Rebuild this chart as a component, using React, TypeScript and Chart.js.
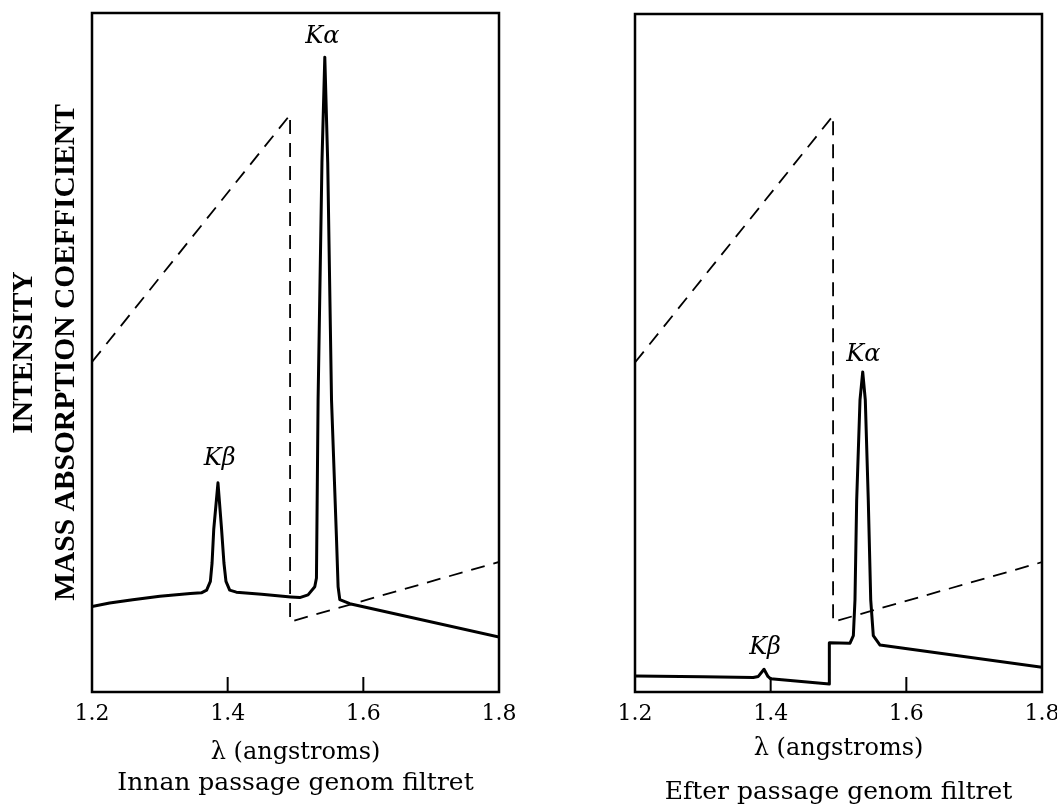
import React, { useEffect, useRef } from 'react';
import { Chart, registerables } from 'chart.js';

Chart.register(...registerables);

// ---- axis / text data ----
const xTicks = [1.2, 1.4, 1.6, 1.8];
const yMin = 0;
const yMax = 100;
const xTitle = 'λ (angstroms)';
const yTitles = ['INTENSITY', 'MASS ABSORPTION COEFFICIENT'];
const beforeCaption = 'Innan passage genom filtret';
const afterCaption = 'Efter passage genom filtret';

// ---- mass absorption coefficient (dashed) ----
const absorptionX = [1.2, 1.492, 1.492, 1.8];
const absorptionY = [48.6, 85.0, 10.35, 19.15];

// ---- intensity before the filter (solid) ----
const beforeX = [
  1.2, 1.226, 1.26, 1.3, 1.345, 1.3612, 1.369, 1.3745, 1.377, 1.3795, 1.3857,
  1.391, 1.3945, 1.3975, 1.403, 1.4128, 1.45, 1.493, 1.5063, 1.5185, 1.5284,
  1.5309, 1.5333, 1.539, 1.5432, 1.5475, 1.5531, 1.5605, 1.5628, 1.5653, 1.5801, 1.8,
];
const beforeY = [
  12.6, 13.1, 13.6, 14.1, 14.5, 14.6, 15.0, 16.3, 19.0, 24.0, 30.8,
  24.0, 19.0, 16.3, 15.0, 14.7, 14.4, 14.0, 13.9, 14.3, 15.5,
  16.8, 43.0, 78.0, 93.5, 78.0, 43.0, 22.4, 15.5, 13.6, 13.0, 8.1,
];

// ---- intensity after the filter (solid) ----
const afterX = [
  1.2, 1.3, 1.3744, 1.3818, 1.3902, 1.396, 1.4, 1.4865, 1.4865, 1.517, 1.5219,
  1.5243, 1.5268, 1.5317, 1.5357, 1.5395, 1.5439, 1.5475, 1.5513, 1.5612, 1.8,
];
const afterY = [
  2.36, 2.25, 2.15, 2.3, 3.35, 2.3, 1.95, 1.18, 7.27, 7.2, 8.3,
  13.6, 28.3, 43.1, 47.2, 43.1, 28.3, 13.6, 8.3, 6.93, 3.65,
];

// ---- peak labels ----
const peakNames = ['Kα', 'Kβ'];
const beforeLabelX = [1.5395, 1.3882];
const beforeLabelY = [96.5, 34.3];
const afterLabelX = [1.5366, 1.3917];
const afterLabelY = [49.8, 6.5];

const serif = 'DejaVu Serif';

const frameAndMarks = {
  id: 'frameAndMarks',
  afterDatasetsDraw(chart: any, _args: any, opts: any) {
    const { ctx, chartArea, scales } = chart;
    const { left, top, right, bottom } = chartArea;
    const x = scales.x;
    const y = scales.y;
    ctx.save();
    ctx.strokeStyle = '#000';
    ctx.lineWidth = 2.5;
    ctx.strokeRect(left, top, right - left, bottom - top);
    ctx.lineWidth = 2;
    xTicks.slice(1, -1).forEach((v) => {
      const px = x.getPixelForValue(v);
      ctx.beginPath();
      ctx.moveTo(px, bottom);
      ctx.lineTo(px, bottom - 15);
      ctx.stroke();
    });
    ctx.fillStyle = '#000';
    ctx.font = `italic 24px "${serif}"`;
    ctx.textAlign = 'center';
    ctx.textBaseline = 'middle';
    (opts.names || []).forEach((t: string, i: number) => {
      ctx.fillText(t, x.getPixelForValue(opts.lx[i]), y.getPixelForValue(opts.ly[i]));
    });
    ctx.restore();
  },
};

function toPoints(xs: number[], ys: number[]) {
  return xs.map((v, i) => ({ x: v, y: ys[i] }));
}

function buildConfig(side: 'before' | 'after'): any {
  const isBefore = side === 'before';
  return {
    type: 'line',
    data: {
      datasets: [
        {
          label: 'Intensity',
          data: isBefore ? toPoints(beforeX, beforeY) : toPoints(afterX, afterY),
          borderColor: '#000',
          borderWidth: 3,
          pointRadius: 0,
          tension: 0,
          fill: false,
          borderJoinStyle: 'round',
          borderCapStyle: 'round',
        },
        {
          label: 'Mass absorption coefficient',
          data: toPoints(absorptionX, absorptionY),
          borderColor: '#000',
          borderWidth: 1.8,
          borderDash: [14, 9],
          pointRadius: 0,
          tension: 0,
          fill: false,
        },
      ],
    },
    options: {
      responsive: false,
      animation: false,
      devicePixelRatio: 1,
      events: [],
      layout: {
        padding: isBefore
          ? { left: 0, right: 29, top: 13, bottom: 0 }
          : { left: 107, right: 28, top: 14, bottom: 0 },
      },
      plugins: {
        legend: { display: false },
        tooltip: { enabled: false },
        title: {
          display: true,
          position: 'bottom',
          fullSize: false,
          text: isBefore ? beforeCaption : afterCaption,
          color: '#000',
          font: { family: serif, size: 25, weight: 'normal', lineHeight: 1.2 },
          padding: { top: 0, bottom: isBefore ? 32 : 23 },
        },
        frameAndMarks: {
          names: peakNames,
          lx: isBefore ? beforeLabelX : afterLabelX,
          ly: isBefore ? beforeLabelY : afterLabelY,
        },
      },
      scales: {
        x: {
          type: 'linear',
          min: xTicks[0],
          max: xTicks[xTicks.length - 1],
          afterBuildTicks: (s: any) => {
            s.ticks = xTicks.map((v) => ({ value: v }));
          },
          afterFit: (s: any) => {
            s.height = isBefore ? 76 : 85;
          },
          grid: { display: false, drawTicks: false },
          border: { display: false },
          ticks: {
            color: '#000',
            font: { family: serif, size: 22, lineHeight: 1.2 },
            padding: 9,
            maxRotation: 0,
            autoSkip: false,
            callback: (v: any) => Number(v).toFixed(1),
          },
          title: {
            display: true,
            text: xTitle,
            color: '#000',
            font: { family: serif, size: 24, lineHeight: 1 },
            padding: { top: 0, bottom: isBefore ? 3 : 16 },
          },
        },
        y: {
          type: 'linear',
          min: yMin,
          max: yMax,
          display: isBefore,
          afterFit: (s: any) => {
            if (isBefore) s.width = 92;
          },
          grid: { display: false, drawTicks: false },
          border: { display: false },
          ticks: { display: false },
          title: {
            display: isBefore,
            text: yTitles,
            color: '#000',
            font: { family: 'Liberation Serif', size: 29.5, weight: 'bold', lineHeight: '42.5px' },
            padding: { top: 2.75, bottom: 0 },
          },
        },
      },
    },
    plugins: [frameAndMarks],
  };
}

export default function App() {
  const leftRef = useRef<HTMLCanvasElement>(null);
  const rightRef = useRef<HTMLCanvasElement>(null);

  useEffect(() => {
    const c1 = new Chart(leftRef.current as HTMLCanvasElement, buildConfig('before'));
    const c2 = new Chart(rightRef.current as HTMLCanvasElement, buildConfig('after'));
    return () => {
      c1.destroy();
      c2.destroy();
    };
  }, []);

  return (
    <div
      style={{
        position: 'fixed',
        left: 0,
        top: 0,
        width: 1057,
        height: 806,
        overflow: 'hidden',
        background: '#fff',
      }}
    >
      <canvas
        ref={leftRef}
        width={528}
        height={830}
        style={{ position: 'absolute', left: 0, top: 0, width: 528, height: 830, display: 'block' }}
      />
      <canvas
        ref={rightRef}
        width={542}
        height={830}
        style={{ position: 'absolute', left: 528, top: 0, width: 542, height: 830, display: 'block' }}
      />
    </div>
  );
}
